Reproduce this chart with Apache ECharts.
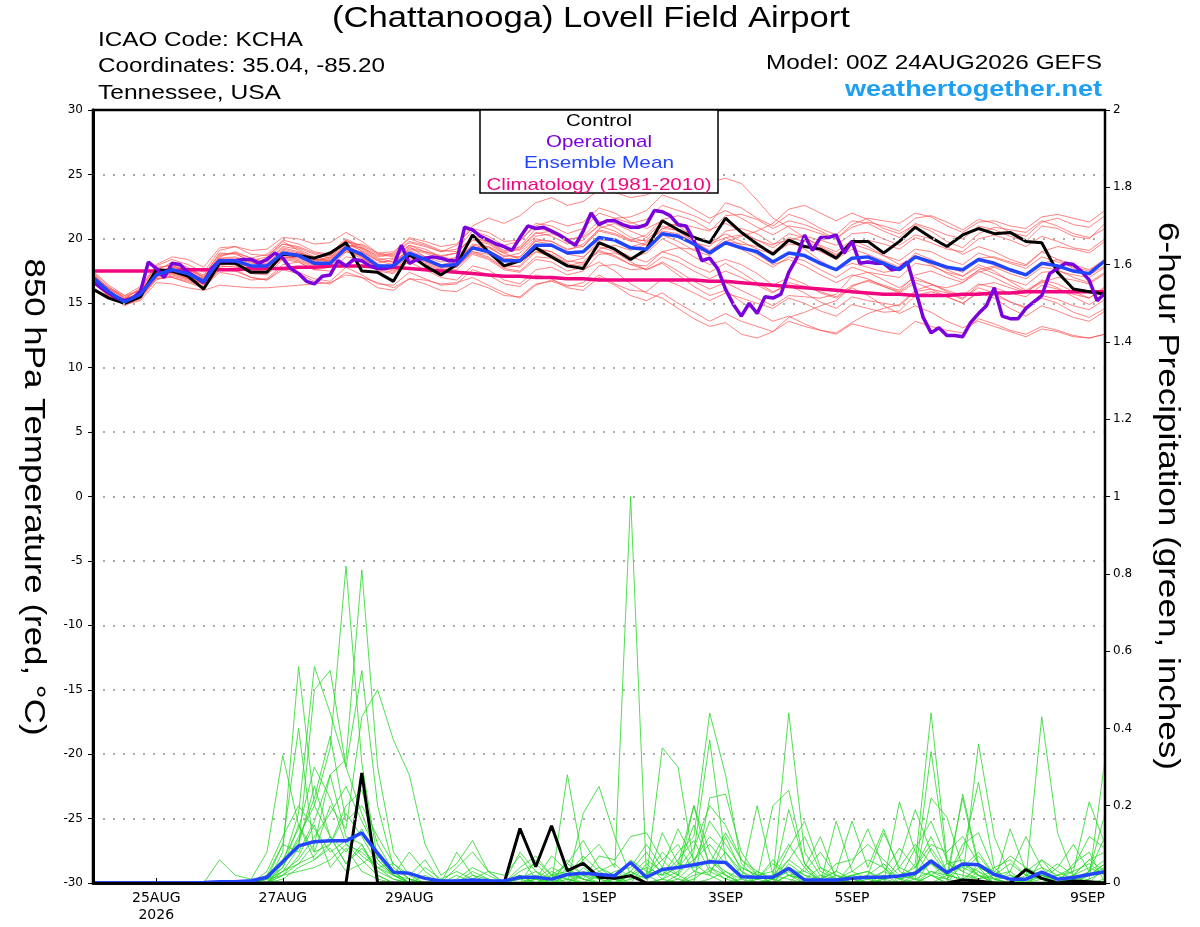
<!DOCTYPE html>
<html>
<head>
<meta charset="utf-8">
<title>KCHA GEFS</title>
<script src="https://cdn.jsdelivr.net/npm/echarts@6/dist/echarts.min.js"></script>
<style>
html,body{margin:0;padding:0;background:#fff;}
#chart{width:1200px;height:927px;}
</style>
</head>
<body>
<div id="chart"></div>
<script>
// x values are hours after 00Z 24AUG2026, members/control/mean every 6 h, operational every 3 h
var tickHours = [24, 72, 120, 192, 240, 288, 336, 384];
var tickText = ['25AUG\n2026', '27AUG', '29AUG', '1SEP', '3SEP', '5SEP', '7SEP', '9SEP'];

// 850 hPa temperature (C)
var ctlTemp = [16.1,15.4,15.0,15.5,17.6,17.5,17.1,16.1,18.1,18.1,17.4,17.4,18.8,18.7,18.5,18.9,19.7,
  17.5,17.4,16.7,18.8,17.9,17.2,18.0,20.3,19.0,17.9,18.3,19.3,18.6,17.9,17.7,19.7,
  19.2,18.4,19.2,21.4,20.7,20.1,19.7,21.6,20.5,19.6,18.8,19.9,19.4,19.2,18.5,19.8,
  19.8,18.9,19.8,20.9,20.1,19.4,20.3,20.8,20.4,20.5,19.8,19.7,17.4,16.1,15.9,15.7];
var meanTemp = [17.0,15.9,15.1,15.7,17.2,17.6,17.3,16.7,18.3,18.3,17.9,17.9,18.9,18.7,18.1,18.1,19.3,
  18.8,17.9,17.9,18.9,18.4,17.9,18.0,19.3,19.0,18.3,18.3,19.5,19.5,18.9,19.0,20.1,
  19.9,19.3,19.2,20.4,20.2,19.6,18.9,19.7,19.3,19.0,18.2,18.9,18.7,18.1,17.6,18.5,
  18.6,18.1,17.6,18.6,18.2,17.8,17.6,18.4,18.1,17.6,17.2,18.1,17.9,17.5,17.3,18.3];
var climTemp = [17.5,17.5,17.5,17.5,17.5,17.5,17.6,17.6,17.6,17.6,17.7,17.7,17.7,17.8,17.8,17.9,17.9,
  17.9,17.8,17.8,17.7,17.6,17.5,17.4,17.3,17.2,17.1,17.1,17.0,17.0,16.9,16.9,16.8,
  16.8,16.8,16.8,16.8,16.8,16.8,16.7,16.7,16.6,16.5,16.4,16.3,16.2,16.1,16.0,15.9,
  15.8,15.7,15.7,15.6,15.6,15.6,15.7,15.7,15.8,15.8,15.9,15.9,15.9,15.9,15.9,15.9];
var operTemp = [16.7,16.2,15.8,15.4,15.2,15.4,15.9,18.2,17.7,17.0,18.1,18.0,17.4,17.0,16.6,17.7,
  18.3,18.3,18.3,18.4,18.4,18.1,18.4,18.9,18.5,17.7,17.3,16.7,16.5,17.1,17.2,18.3,17.9,
  18.4,18.3,17.9,17.7,17.7,17.9,19.5,18.1,18.4,18.5,18.6,18.5,18.3,18.3,20.9,20.7,
  20.2,19.9,19.6,19.4,19.1,20.1,21.0,20.8,20.9,20.6,20.3,19.9,19.5,20.6,22.0,21.1,
  21.4,21.4,21.1,20.9,20.9,21.1,22.2,22.1,21.8,21.1,21.0,19.9,18.3,18.5,17.7,16.1,
  14.9,14.0,15.0,14.2,15.5,15.4,15.7,17.4,18.5,20.3,19.1,20.1,20.1,20.3,18.9,19.8,
  18.1,18.2,18.1,18.1,17.6,17.7,18.2,16.1,13.9,12.7,13.1,12.5,12.5,12.4,13.5,14.2,
  14.8,16.2,14.0,13.8,13.8,14.6,15.1,15.6,17.3,17.7,18.1,18.0,17.5,16.8,15.2,15.8];
var ensTemp = [
 [16.8,15.6,14.9,15.9,17.5,18.2,17.8,17.0,18.6,19.0,18.5,18.2,19.4,19.2,18.6,18.9,20.0,
  19.4,18.6,18.8,19.8,19.5,19.0,19.2,20.6,20.2,19.5,19.8,21.2,21.0,20.4,20.8,22.0,
  21.6,21.2,21.5,22.6,22.2,21.8,21.2,22.8,22.4,21.6,21.0,21.9,21.5,20.8,20.3,21.4,
  21.2,20.6,20.1,21.2,20.8,20.3,20.0,21.0,20.7,20.2,19.8,21.0,20.8,20.2,20.0,21.2],
 [17.2,16.0,15.2,15.5,16.8,17.2,16.9,16.2,17.6,17.6,17.0,16.8,17.8,17.4,16.9,16.7,17.8,
  17.2,16.5,16.4,17.4,16.9,16.4,16.5,17.6,17.2,16.5,16.3,17.2,16.9,16.2,16.0,17.0,
  16.4,15.6,15.2,15.8,15.0,14.3,13.6,14.2,13.6,13.2,12.8,13.6,13.2,12.9,12.6,13.4,
  13.1,12.8,12.6,13.6,13.2,12.9,12.7,13.8,13.4,12.9,12.6,13.2,12.9,12.5,12.3,12.6],
 [16.5,15.8,15.3,16.2,17.8,17.9,17.5,16.9,18.7,18.9,18.2,18.4,19.6,19.3,18.8,18.5,19.9,
  19.0,18.1,18.4,19.4,18.6,18.2,18.6,19.9,19.6,18.9,19.2,20.4,20.6,19.7,19.4,20.8,
  21.2,20.6,20.1,21.3,21.0,20.2,19.6,20.1,19.5,18.8,18.0,18.4,17.9,17.2,16.6,17.2,
  16.9,16.3,15.9,16.8,16.5,16.0,15.6,16.5,16.2,15.8,15.5,16.4,16.1,15.7,15.4,16.2],
 [17.3,16.1,15.4,15.6,17.0,17.9,17.6,17.1,18.9,18.8,18.3,18.6,19.8,19.1,18.4,18.3,19.4,
  19.6,18.9,18.7,19.7,19.4,19.0,19.5,21.0,21.6,21.2,21.8,22.8,23.2,22.6,22.9,23.8,
  23.6,23.2,23.4,24.0,23.8,24.2,24.4,24.7,24.3,23.0,21.6,20.9,20.1,19.4,18.8,19.6,
  19.2,18.7,18.3,19.2,19.0,18.4,18.0,18.9,18.5,18.1,17.7,18.6,18.2,17.8,17.5,18.4],
 [17.0,15.7,14.8,15.4,17.1,17.4,17.0,16.5,18.0,18.1,17.6,17.5,18.5,18.3,17.8,17.9,19.1,
  18.6,17.7,17.6,18.5,18.1,17.7,17.8,19.0,18.8,18.0,17.8,19.0,18.8,18.1,17.6,18.2,
  17.5,16.5,15.8,15.4,14.6,13.8,13.2,13.5,12.6,12.3,12.8,13.9,14.3,14.8,15.2,16.3,
  16.8,16.4,16.0,17.2,17.5,17.0,16.6,17.4,17.8,17.3,16.9,17.8,17.6,17.0,16.6,17.4],
 [16.9,16.2,15.6,16.0,17.4,17.0,16.6,16.2,17.4,17.2,16.8,16.9,18.0,18.2,17.6,17.5,18.6,
  18.4,17.5,17.3,18.4,18.0,17.6,17.6,18.8,18.4,17.6,17.4,18.4,18.2,17.5,17.8,19.2,
  19.5,19.1,19.6,20.8,21.2,20.9,20.6,21.8,21.9,21.5,20.8,21.4,21.1,20.6,20.0,20.9,
  21.3,21.0,20.6,21.6,21.8,21.3,20.7,21.5,21.2,20.5,20.2,21.3,21.6,21.1,20.9,21.8],
 [17.1,15.9,15.1,15.8,17.3,17.5,17.1,16.4,18.1,18.0,17.5,17.7,18.7,18.6,18.2,18.4,19.5,
  18.9,17.8,17.5,18.2,17.6,17.0,16.8,17.9,17.6,16.8,16.5,17.6,17.8,17.2,17.5,18.8,
  18.9,18.5,18.9,20.0,19.4,18.6,18.0,18.4,18.0,17.3,16.4,17.0,16.5,15.8,15.4,16.2,
  15.6,14.8,14.2,14.8,14.3,13.6,13.1,13.6,13.2,12.8,12.4,13.0,12.8,12.4,12.3,12.6],
 [16.7,15.5,14.9,15.2,16.6,16.5,16.2,16.0,16.4,16.3,16.2,16.2,16.3,16.4,16.5,16.6,17.2,
  17.0,16.6,16.2,16.9,16.8,16.5,16.6,17.0,16.4,15.8,15.4,16.4,16.8,16.4,16.3,17.2,
  16.5,16.0,15.9,16.9,16.4,15.8,15.2,15.8,15.4,15.0,14.6,15.4,15.0,14.4,14.0,14.9,
  14.6,14.3,14.4,15.6,15.9,15.5,15.0,15.8,15.4,14.6,14.0,14.8,14.4,13.9,13.6,14.4],
 [17.4,16.3,15.4,16.1,17.9,18.4,18.0,17.4,19.1,19.4,18.8,18.7,19.6,19.4,18.9,18.7,19.8,
  19.2,18.4,18.5,19.5,19.2,18.6,18.4,19.4,19.1,18.4,18.6,19.9,19.8,19.2,19.4,20.6,
  20.3,19.8,19.9,21.0,20.6,19.8,19.1,19.8,19.6,19.4,19.0,19.9,20.2,19.9,19.5,20.4,
  20.5,20.0,19.5,20.3,20.0,19.4,18.8,19.4,19.0,18.4,18.0,19.0,19.4,19.2,18.9,19.8],
 [16.6,15.6,15.0,15.6,17.0,17.3,17.2,16.6,18.3,18.4,17.9,17.8,18.6,18.5,18.0,18.0,19.2,
  19.0,18.3,18.0,19.0,18.5,17.9,18.1,19.5,19.3,18.7,18.6,19.8,19.6,18.8,18.6,19.6,
  19.2,18.6,18.2,19.0,18.6,17.9,17.4,18.1,17.4,16.6,15.9,16.4,15.8,15.1,14.6,15.5,
  15.2,15.0,14.8,15.9,16.1,15.8,15.3,16.4,16.6,16.2,15.8,16.8,16.5,15.9,15.4,16.3],
 [17.2,16.2,15.3,15.8,17.4,17.8,17.4,16.9,18.5,18.6,18.2,18.3,19.3,19.0,18.4,18.2,19.0,
  18.5,17.8,18.0,19.3,19.0,18.6,18.9,20.2,20.0,19.3,19.1,20.2,20.4,19.9,20.2,21.4,
  20.9,20.1,19.8,20.6,20.4,19.7,19.4,20.6,20.8,20.4,19.6,19.9,19.2,18.3,17.6,18.1,
  17.8,17.4,17.6,18.9,18.4,17.8,17.4,18.5,18.6,18.2,17.9,19.0,18.4,17.7,17.2,17.9],
 [16.9,15.8,15.2,15.7,17.1,17.6,17.5,16.8,18.2,18.2,17.7,17.8,18.8,18.9,18.6,18.3,19.4,
  18.6,17.6,17.4,18.6,18.2,17.8,17.9,19.0,18.6,17.8,17.9,19.3,19.0,18.2,18.5,19.9,
  19.9,19.4,19.7,20.8,20.7,20.2,19.7,20.4,19.8,19.2,18.8,19.6,19.5,19.0,18.4,19.2,
  18.8,18.3,17.8,18.7,18.2,17.6,17.1,17.8,17.3,16.8,16.4,17.4,17.5,17.2,17.0,17.8],
 [17.5,16.4,15.6,16.3,18.0,18.6,18.4,17.8,19.3,19.4,19.1,19.2,20.1,20.0,19.6,19.7,20.5,
  19.8,18.9,19.0,20.0,19.6,19.1,19.0,20.1,19.8,19.1,19.3,20.5,20.2,19.6,19.9,21.1,
  21.6,21.7,22.2,23.4,23.0,22.3,21.6,22.2,21.6,20.9,20.3,21.0,20.8,20.4,20.0,21.1,
  21.6,21.4,21.2,22.0,21.7,21.0,20.5,21.3,21.4,21.0,20.8,21.7,21.9,21.6,21.3,22.2],
 [16.6,15.5,15.0,15.3,16.9,17.1,16.8,16.3,17.8,17.9,17.3,17.2,18.4,18.2,17.6,17.8,19.0,
  18.7,18.0,17.8,18.7,18.3,17.9,18.0,19.3,19.4,18.9,18.4,19.2,19.0,18.3,18.1,19.0,
  18.6,18.0,17.6,18.2,17.5,16.7,16.1,16.6,16.0,15.4,14.8,15.6,15.5,15.4,15.7,17.1,
  17.4,17.2,17.0,18.1,17.9,17.4,17.1,18.0,17.5,16.7,16.0,16.7,16.2,15.5,14.9,15.6],
 [17.0,15.8,15.1,15.9,17.6,17.7,17.3,16.8,18.4,18.5,18.1,18.0,19.1,18.8,18.3,18.6,19.6,
  19.1,18.3,18.2,19.2,18.9,18.4,18.3,19.6,19.4,18.6,18.9,20.0,19.8,19.1,19.6,20.7,
  20.4,19.9,20.3,21.5,21.8,21.4,20.7,21.2,20.6,19.9,19.3,20.1,19.8,19.3,18.7,19.6,
  19.9,19.6,19.2,20.1,19.7,19.2,19.0,20.0,20.3,19.9,19.4,20.2,19.8,19.3,19.1,20.0],
 [16.8,15.7,15.0,15.6,17.2,17.4,17.0,16.6,18.0,18.2,17.8,17.6,18.6,18.4,17.9,18.1,19.2,
  18.8,18.0,17.7,18.6,18.4,18.0,18.2,19.4,19.1,18.5,18.2,19.0,18.6,17.9,18.2,19.4,
  19.0,18.2,17.6,18.1,17.2,16.3,15.6,16.0,15.1,14.3,13.6,14.0,13.4,12.9,12.7,13.5,
  14.2,14.6,14.9,16.0,16.4,16.2,16.6,17.6,17.9,17.5,17.2,18.1,18.4,18.0,17.6,18.4],
 [17.3,16.1,15.5,16.0,17.7,18.0,17.7,17.2,18.8,18.9,18.5,18.8,19.9,19.6,19.0,18.8,19.9,
  19.3,18.7,18.9,20.1,19.8,19.4,19.6,20.8,20.5,19.8,19.9,21.0,21.4,21.0,21.3,22.4,
  22.0,21.3,20.8,21.4,20.6,19.8,19.0,19.6,19.2,18.5,17.8,18.6,18.3,17.6,17.0,17.8,
  17.4,16.8,16.2,17.0,16.5,15.9,15.4,16.2,15.8,15.1,14.6,15.4,15.0,14.3,13.9,14.6],
 [16.9,15.9,15.3,15.8,17.3,17.3,16.9,16.5,17.9,17.8,17.4,17.5,18.5,18.6,18.3,18.5,19.5,
  19.3,18.5,18.2,19.1,18.6,17.9,17.8,18.9,18.5,17.7,17.5,18.6,18.5,17.8,18.0,19.1,
  18.7,18.0,17.9,19.0,19.3,19.2,19.0,20.1,20.3,19.9,19.5,20.4,20.1,19.5,19.0,19.9,
  19.4,18.7,18.0,18.6,18.0,17.3,16.8,17.5,17.0,16.4,15.9,16.6,17.0,16.8,16.5,17.3],
 [17.1,16.0,15.2,15.7,17.2,17.8,17.6,17.0,18.5,18.3,17.9,18.1,19.2,18.9,18.5,18.7,19.8,
  19.5,18.8,18.6,19.5,19.0,18.7,18.9,20.1,19.7,19.0,19.4,20.8,20.6,20.0,20.1,21.0,
  20.6,19.9,19.5,20.3,19.8,19.1,18.7,19.8,20.2,20.6,21.2,22.3,22.6,22.0,21.4,22.0,
  21.5,20.8,20.4,21.1,20.6,19.8,19.3,20.4,20.9,20.7,20.5,21.4,21.0,20.4,20.1,20.8],
 [16.7,15.6,15.1,15.5,16.9,17.0,16.7,16.3,17.6,17.5,17.0,16.8,17.6,17.3,16.7,16.5,17.4,
  17.0,16.2,16.0,16.9,16.5,16.0,15.9,16.6,16.2,15.6,15.5,16.5,16.7,16.3,16.6,17.9,
  18.0,17.6,17.7,18.6,18.2,17.5,16.9,17.5,17.0,16.4,15.8,16.6,16.3,15.9,15.5,16.4,
  16.7,16.3,15.8,16.6,16.1,15.5,15.0,15.9,15.6,15.1,14.7,15.6,15.3,14.8,14.5,15.3]
];

// 6-hour precipitation (inches)
var ctlPrcp = [0,0,0,0,0,0,0,0,0,0,0,0,0,0,0,0,0,
  0.285,0,0,0,0,0,0,0,0,0,0.141,0.042,0.148,0.032,0.051,0.015,
  0.012,0.019,0,0,0,0,0,0,0,0,0,0,0,0,0,0,
  0,0,0,0,0,0,0.008,0.005,0,0,0.035,0.012,0,0.005,0.003,0];
var meanPrcp = [0,0,0,0,0,0,0,0.001,0.003,0.003,0.006,0.015,0.055,0.096,0.107,0.109,0.109,
  0.130,0.077,0.028,0.025,0.012,0.005,0.005,0.008,0.006,0.005,0.015,0.015,0.010,0.022,0.025,0.022,
  0.019,0.053,0.015,0.035,0.040,0.047,0.055,0.053,0.016,0.015,0.015,0.038,0.008,0.008,0.008,0.012,
  0.015,0.015,0.018,0.025,0.057,0.027,0.049,0.047,0.022,0.010,0.010,0.028,0.010,0.014,0.022,0.029];
var ensPrcp = [
 [0,0,0,0,0,0,0,0,0,0,0,0.01,0.04,0.12,0.2,0.35,0.82,
  0.31,0.06,0.02,0,0,0,0,0.01,0,0,0.02,0,0.01,0.05,0.02,0,
  0,0.03,0,0.01,0.05,0.2,0.08,0.02,0,0,0.01,0.03,0,0,0,0.01,
  0,0,0,0.02,0.09,0.03,0,0.05,0.01,0,0,0,0.01,0,0.02,0.05],
 [0,0,0,0,0,0,0,0,0,0,0,0,0.02,0.05,0.1,0.28,0.32,
  0.81,0.3,0.08,0.02,0,0,0,0,0,0,0,0.01,0,0.04,0.01,0,
  0,0,0,0,0.02,0,0.01,0.03,0,0,0,0,0.04,0.12,0.01,0,
  0,0.01,0,0,0.02,0,0.05,0.02,0,0,0,0.03,0,0,0,0.01],
 [0,0,0,0,0,0,0,0,0,0,0,0,0.08,0.56,0.2,0.12,0.05,
  0.1,0.02,0,0,0,0,0.08,0.02,0,0,0,0,0,0.28,0.05,0.01,
  0.02,0,0,0,0,0.03,0.06,0.02,0,0.01,0.2,0.24,0.05,0.01,0,0.02,
  0.03,0,0,0.01,0,0.02,0.08,0.26,0.04,0,0,0.06,0.01,0,0.03,0.18],
 [0,0,0,0,0,0,0,0,0,0,0,0.02,0.05,0.18,0.56,0.44,0.3,
  0.55,0.2,0.04,0.01,0,0,0,0,0,0,0.02,0,0,0.02,0.06,0.1,
  0.04,1.0,0.02,0,0,0.01,0.04,0.02,0,0,0,0.02,0.01,0,0,0.05,
  0.14,0.04,0,0,0.02,0.01,0,0.03,0,0,0.01,0.43,0.13,0.02,0,0],
 [0,0,0,0,0,0,0,0,0,0,0,0,0.03,0.09,0.5,0.55,0.3,
  0.18,0.07,0.02,0,0,0,0,0.02,0.01,0,0,0.02,0,0,0.04,0.01,
  0,0.03,0.01,0.35,0.3,0.05,0.02,0,0.01,0,0,0.04,0.02,0,0,0,
  0,0,0.21,0.08,0.02,0,0.23,0.05,0.01,0,0,0,0.02,0.03,0.21,0.1],
 [0,0,0,0,0,0,0,0,0,0,0,0.01,0.1,0.4,0.08,0.2,0.14,
  0.43,0.5,0.37,0.28,0.1,0.02,0.05,0.11,0.03,0,0,0,0.02,0.01,0,0,
  0,0.06,0.03,0.02,0.08,0.12,0.44,0.28,0.05,0.01,0,0,0,0,0.02,0.01,
  0,0.02,0,0.05,0.44,0.06,0,0.02,0,0,0,0.01,0,0,0.01,0.32],
 [0,0,0,0,0,0,0,0,0.06,0.02,0.01,0.08,0.33,0.15,0.06,0.1,0.18,
  0.12,0.05,0.02,0,0,0,0,0,0,0,0.08,0.03,0.01,0,0.18,0.25,
  0.12,0.02,0,0,0.01,0,0.22,0.23,0.08,0.02,0,0.19,0.05,0,0.16,0.03,
  0.01,0,0,0,0.03,0.02,0.01,0.36,0.12,0.02,0,0,0,0.05,0.08,0],
 [0,0,0,0,0,0,0,0,0,0,0,0.03,0.12,0.2,0.14,0.08,0.11,
  0.07,0.04,0.05,0.02,0.06,0,0.04,0.08,0.03,0.02,0.07,0.01,0,0.06,0.02,0.01,
  0.03,0.04,0.1,0.04,0.02,0.08,0.37,0.06,0.02,0.01,0.02,0.01,0,0.01,0.03,0.16,
  0.04,0.14,0.03,0.01,0.22,0.17,0.04,0.02,0.01,0,0.02,0.01,0.02,0,0.01,0.03],
 [0,0,0,0,0,0,0,0,0,0,0,0,0.04,0.15,0.08,0.1,0.2,
  0.24,0.1,0.03,0,0,0,0.02,0,0,0,0,0.06,0.02,0.03,0.01,0.07,
  0.06,0.12,0.13,0.06,0.02,0.2,0.04,0.01,0,0.03,0.01,0.44,0.08,0.02,0,0,
  0.02,0.13,0.04,0.02,0.34,0.05,0.06,0.02,0,0.03,0,0.02,0,0.01,0,0.04],
 [0,0,0,0,0,0,0,0,0,0,0,0.02,0.06,0.1,0.25,0.12,0.05,
  0.09,0.04,0.02,0.08,0.03,0,0,0,0,0,0.04,0.07,0.02,0.05,0.11,0.04,
  0.01,0,0,0.13,0.05,0.04,0.06,0.03,0.01,0.2,0.02,0.06,0.12,0.03,0.01,0.02,
  0,0,0.06,0.19,0.08,0.02,0.22,0.04,0,0.14,0.03,0.01,0,0.02,0.06,0.08],
 [0,0,0,0,0,0,0,0,0,0,0,0,0.02,0.07,0.15,0.04,0.09,
  0.03,0.01,0,0,0,0.01,0.03,0.01,0,0,0.02,0,0,0.01,0,0.02,
  0,0.02,0,0.01,0.03,0.06,0.1,0.05,0.02,0,0,0.02,0.01,0.04,0.02,0,
  0.01,0.03,0.01,0.02,0.05,0.02,0.01,0.04,0.02,0.01,0,0.03,0.01,0,0.02,0.04],
 [0,0,0,0,0,0,0,0,0,0,0,0.01,0.03,0.05,0.07,0.12,0.08,
  0.14,0.06,0.02,0.01,0,0,0,0.01,0.03,0,0,0.01,0.04,0.02,0.01,0,
  0.01,0.02,0.04,0.02,0.06,0.11,0.03,0.08,0.02,0.01,0.05,0.02,0,0.01,0.03,0.01,
  0.02,0.05,0.01,0,0.06,0.03,0.02,0.01,0.04,0.06,0.02,0.04,0,0.01,0.03,0.06],
 [0,0,0,0,0,0,0,0,0,0,0,0,0.01,0.04,0.06,0.09,0.03,
  0.05,0.08,0.03,0,0,0,0,0,0,0,0.01,0,0.02,0,0.03,0.01,
  0,0,0.05,0.01,0,0.02,0.03,0.01,0.04,0.02,0.01,0.06,0.03,0.01,0,0.02,
  0.01,0.02,0.01,0.03,0.02,0.05,0.03,0.01,0.02,0.03,0.12,0.04,0.02,0.04,0.12,0.09],
 [0,0,0,0,0,0,0,0,0,0,0,0.01,0.02,0.03,0.04,0.06,0.1,
  0.08,0.04,0.01,0,0.02,0,0,0,0,0,0,0,0,0.02,0,0,
  0,0.01,0.02,0.06,0.1,0.03,0.02,0.12,0.03,0,0.01,0,0,0.02,0.01,0,
  0,0.01,0.02,0.01,0.03,0.01,0.05,0.03,0.01,0.02,0.01,0.02,0.01,0.02,0.04,0.02],
 [0,0,0,0,0,0,0,0,0,0,0,0.01,0.06,0.14,0.3,0.22,0.1,
  0.06,0.02,0,0,0,0,0,0.03,0.01,0,0,0.01,0.07,0.03,0.01,0,
  0,0.02,0.06,0.03,0.01,0.05,0.16,0.1,0.04,0.02,0.03,0.1,0.04,0,0.01,0.02,
  0.03,0.01,0.04,0.1,0.05,0.01,0.1,0.13,0.03,0.01,0,0.02,0.05,0.02,0.06,0.03],
 [0,0,0,0,0,0,0,0,0,0,0,0,0.05,0.11,0.22,0.38,0.16,
  0.2,0.12,0.05,0.01,0,0,0,0,0,0,0.01,0.03,0,0,0.02,0.04,
  0.02,0.05,0.01,0.04,0.14,0.06,0.12,0.08,0.03,0.01,0.06,0.02,0.03,0.08,0.02,0,
  0,0.03,0.09,0.04,0.12,0.03,0.04,0.08,0.02,0.05,0.02,0.01,0.04,0.1,0.03,0.12],
 [0,0,0,0,0,0,0,0,0,0,0,0.02,0.1,0.08,0.16,0.28,0.12,
  0.1,0.03,0.01,0,0.04,0.01,0,0,0.01,0,0.03,0.05,0.01,0.02,0.07,0.03,
  0.05,0.01,0.02,0.08,0.04,0.15,0.05,0.13,0.06,0.02,0,0.05,0.02,0.01,0.05,0.06,
  0.1,0.06,0.02,0.04,0.1,0.08,0.12,0.05,0.03,0.07,0.04,0.02,0.01,0.03,0.05,0.02],
 [0,0,0,0,0,0,0,0,0,0,0,0,0.03,0.06,0.12,0.18,0.25,
  0.16,0.08,0.03,0,0,0,0.01,0.04,0.02,0,0,0,0.03,0.01,0,0.03,
  0.01,0.03,0.08,0.02,0.04,0.09,0.2,0.15,0.06,0.03,0.01,0.09,0.16,0.04,0.01,0.03,
  0.06,0.04,0.01,0.09,0.16,0.06,0.03,0.07,0.02,0.01,0.03,0.06,0.03,0.01,0.02,0.05]
];

var chart = echarts.init(document.getElementById('chart'));

function pairs(arr, step){
  return arr.map(function(v, i){ return [i * step, v]; });
}
function line(arr, step, axis, color, width, z){
  return {type:'line', yAxisIndex:axis, data:pairs(arr, step), symbol:'none',
    silent:true, z:z, lineStyle:{color:color, width:width}};
}

// text drawn a bit wider than Liberation Sans, like the original plot fonts
var mctx = document.createElement('canvas').getContext('2d');
function txt(text, x, y, size, w, color, align, bold, rot){
  var font = (bold ? 'bold ' : '') + size + 'px "Liberation Sans", Arial, sans-serif';
  mctx.font = font;
  var sx = w / mctx.measureText(text).width;
  return {type:'text', x:x, y:y, rotation:rot || 0, scaleX:sx, z:101,
    style:{text:text, x:0, y:0, font:font, fill:color, textAlign:align, textVerticalAlign:'middle'}};
}

var series = [];
ensTemp.forEach(function(m){ series.push(line(m, 6, 0, 'rgba(255,70,70,0.75)', 0.9, 2)); });
ensPrcp.forEach(function(m){ series.push(line(m, 6, 1, 'rgba(40,215,40,0.9)', 0.9, 2)); });
series.push(line(climTemp, 6, 0, '#f0077f', 3.5, 3));
series.push(line(ctlTemp, 6, 0, '#000', 3, 4));
series.push(line(ctlPrcp, 6, 1, '#000', 3, 4));
series.push(line(operTemp, 3, 0, '#7b00dc', 3.5, 5));
series.push(line(meanTemp, 6, 0, '#2245ff', 3.5, 6));
series.push(line(meanPrcp, 6, 1, '#2245ff', 3.5, 6));

var lab = {fontFamily:'DejaVu Sans', fontSize:12, color:'#000'};

chart.setOption({
  animation:false,
  backgroundColor:'#fff',
  grid:{left:93, right:95, top:110, bottom:44, show:true, borderColor:'#000', borderWidth:2.5},
  xAxis:{
    type:'value', min:0, max:384, z:10,
    axisLine:{onZero:false, lineStyle:{color:'#000', width:3}},
    axisTick:{show:true, inside:true, length:5, customValues:tickHours, lineStyle:{color:'#000'}},
    axisLabel:{customValues:tickHours, fontFamily:'DejaVu Sans', fontSize:14, color:'#000',
      lineHeight:17, margin:7, alignMaxLabel:'right',
      formatter:function(v){ var k = tickHours.indexOf(v); return k < 0 ? '' : tickText[k]; }},
    splitLine:{show:false}
  },
  yAxis:[{
    type:'value', position:'left', min:-30, max:30, interval:5, z:10,
    axisLine:{show:true, onZero:false, lineStyle:{color:'#000', width:3}},
    axisTick:{show:true, length:5, lineStyle:{color:'#000'}},
    axisLabel:Object.assign({margin:10}, lab),
    splitLine:{show:true, showMinLine:false, showMaxLine:false,
      lineStyle:{color:'#aaa', width:2, type:[2, 8]}}
  }, {
    type:'value', position:'right', min:0, max:2, interval:0.2, z:10,
    axisLine:{show:true, onZero:false, lineStyle:{color:'#000', width:2}},
    axisTick:{show:true, length:5, lineStyle:{color:'#000'}},
    axisLabel:Object.assign({margin:8}, lab),
    splitLine:{show:false}
  }],
  series:series,
  graphic:[
    txt('(Chattanooga) Lovell Field Airport', 591, 19, 30, 518, '#000', 'center'),
    txt('ICAO Code: KCHA', 98, 40, 20, 205, '#000', 'left'),
    txt('Coordinates: 35.04, -85.20', 98, 66, 20, 287, '#000', 'left'),
    txt('Tennessee, USA', 98, 93, 20, 183, '#000', 'left'),
    txt('Model: 00Z 24AUG2026 GEFS', 1102, 63, 20, 336, '#000', 'right'),
    txt('weathertogether.net', 1102, 90, 22, 257, '#1e9ff2', 'right', true),
    {type:'rect', z:100, shape:{x:480, y:110, width:238, height:83},
      style:{fill:'#fff', stroke:'#000', lineWidth:1.5}},
    txt('Control', 599, 121, 17, 66, '#000', 'center'),
    txt('Operational', 599, 142, 17, 106, '#7b00dc', 'center'),
    txt('Ensemble Mean', 599, 163, 17, 150, '#2245ff', 'center'),
    txt('Climatology (1981-2010)', 599, 185, 17, 225, '#f0077f', 'center'),
    txt('850 hPa Temperature (red, \u00b0C)', 33, 497, 30, 477, '#000', 'center', false, -Math.PI / 2),
    txt('6-hour Precipitation (green, inches)', 1167, 496, 30, 548, '#000', 'center', false, -Math.PI / 2)
  ]
});
</script>
</body>
</html>
